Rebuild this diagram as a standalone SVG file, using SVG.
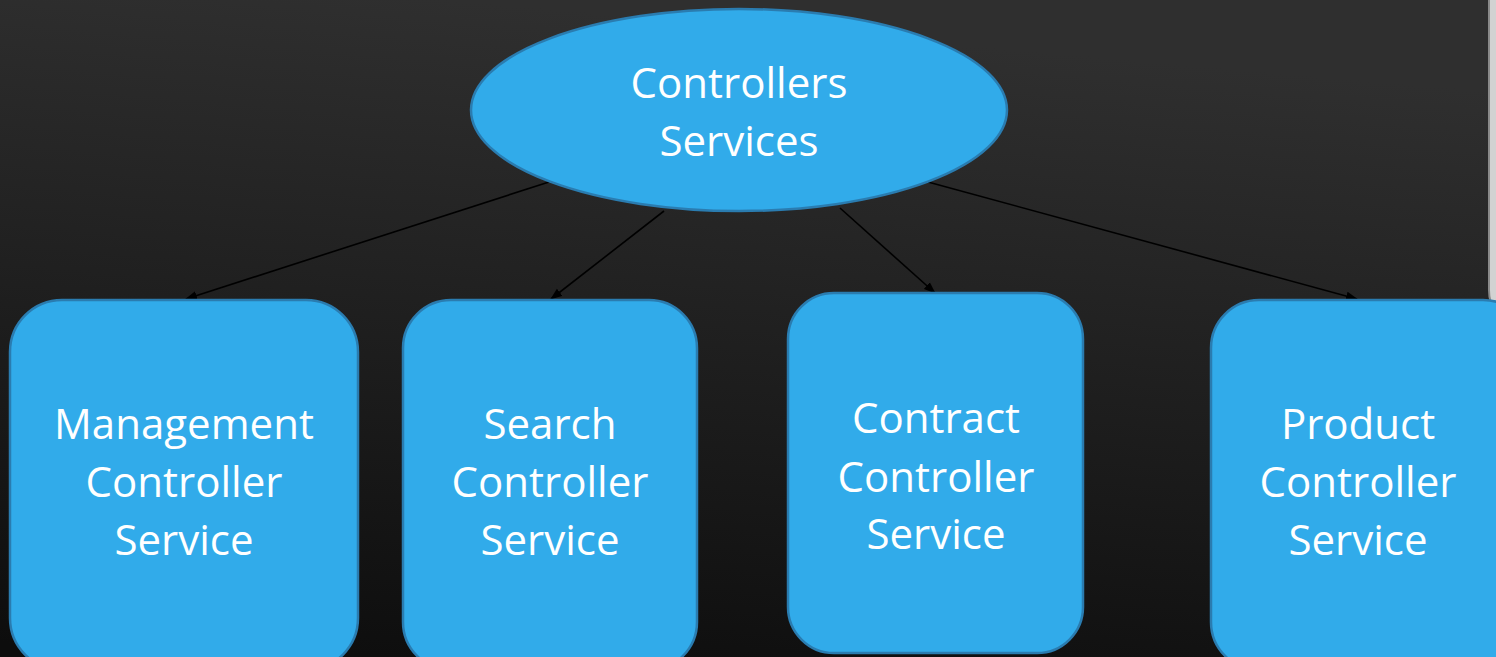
<svg xmlns="http://www.w3.org/2000/svg" width="1496" height="657" viewBox="0 0 1496 657">
<defs>
<linearGradient id="bg" x1="0.3" y1="0" x2="0.1" y2="1">
<stop offset="0" stop-color="#2f2f2f"/>
<stop offset="1" stop-color="#0d0d0d"/>
</linearGradient>
<marker id="ah" markerWidth="12" markerHeight="10" refX="11" refY="5" orient="auto" markerUnits="userSpaceOnUse">
<path d="M0,0.5 L12,5 L0,9.5 Z" fill="#000"/>
</marker>
<style>
.n{fill:#31abea;stroke:#2a7cb0;stroke-width:2.5}
.t{font-family:"Open Sans","Noto Sans",sans-serif;font-size:42px;fill:#fff;text-anchor:middle}
.c{stroke:#000;stroke-width:1.6;fill:none;marker-end:url(#ah)}
</style>
</defs>
<rect width="1496" height="657" fill="url(#bg)"/>
<path d="M1489,-5 L1489,290 Q1489,312 1505,312 L1505,-5 Z" fill="#d2d2d2" stroke="#8a8a8a" stroke-width="2"/>
<g id="connectors">
<line class="c" x1="549" y1="182" x2="186" y2="299"/>
<line class="c" x1="664" y1="211" x2="551" y2="299"/>
<line class="c" x1="840" y1="208" x2="935" y2="293"/>
<line class="c" x1="928" y1="182" x2="1357" y2="299"/>
</g>
<g id="root">
<ellipse class="n" cx="739" cy="110" rx="268" ry="101"/>
<text class="t" x="739" y="98">Controllers</text>
<text class="t" x="739" y="156">Services</text>
</g>
<g id="management">
<rect class="n" x="10" y="300" width="348" height="370" rx="52"/>
<text class="t" x="184" y="439">Management</text>
<text class="t" x="184" y="497">Controller</text>
<text class="t" x="184" y="555">Service</text>
</g>
<g id="search">
<rect class="n" x="403" y="300" width="294" height="370" rx="48"/>
<text class="t" x="550" y="439">Search</text>
<text class="t" x="550" y="497">Controller</text>
<text class="t" x="550" y="555">Service</text>
</g>
<g id="contract">
<rect class="n" x="788" y="293" width="295" height="360" rx="46"/>
<text class="t" x="936" y="433">Contract</text>
<text class="t" x="936" y="492">Controller</text>
<text class="t" x="936" y="549">Service</text>
</g>
<g id="product">
<rect class="n" x="1211" y="300" width="320" height="370" rx="48"/>
<text class="t" x="1358" y="439">Product</text>
<text class="t" x="1358" y="497">Controller</text>
<text class="t" x="1358" y="555">Service</text>
</g>
</svg>
